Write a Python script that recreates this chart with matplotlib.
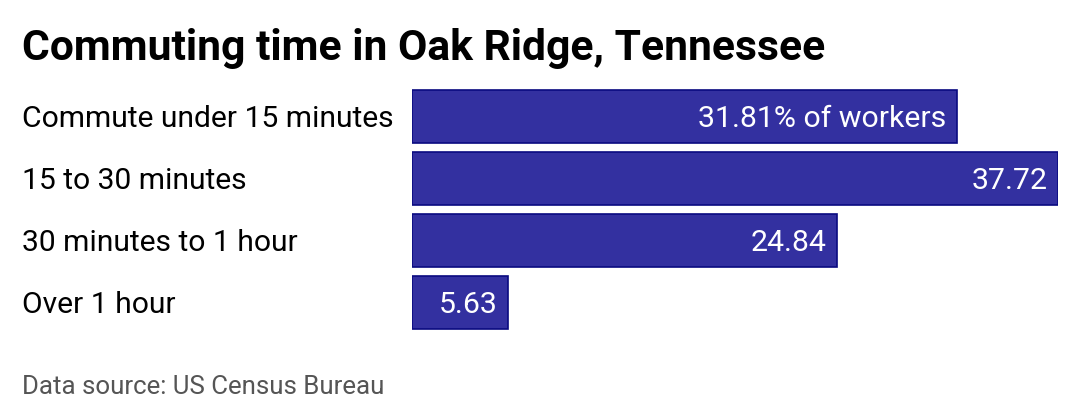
import matplotlib.pyplot as plt

categories = ["Commute under 15 minutes", "15 to 30 minutes", "30 minutes to 1 hour", "Over 1 hour"]
values = [31.81, 37.72, 24.84, 5.63]
value_labels = ["31.81% of workers", "37.72", "24.84", "5.63"]

plt.rcParams["font.family"] = ["Roboto", "DejaVu Sans"]

fig = plt.figure(figsize=(10.8, 4.2), dpi=100)
ax = fig.add_axes([412 / 1080, 1 - 333.5 / 420, 646 / 1080, 248 / 420])

ypos = list(range(len(categories)))
ax.barh(ypos, values, height=0.86, color="#3330a0", edgecolor="#0a0a80", linewidth=1.2)
ax.set_xlim(0, max(values))
ax.set_ylim(len(categories) - 0.5, -0.5)
ax.axis("off")

for y, v, lab in zip(ypos, values, value_labels):
    ax.annotate(lab, xy=(v, y), xytext=(-7.5, -1.8), textcoords="offset points",
                ha="right", va="center", color="white", fontsize=21.8)

for y, cat in zip(ypos, categories):
    ax.annotate(cat, xy=(0, y), xycoords=("figure fraction", "data"),
                xytext=(22 * 0.72, -1.8), textcoords="offset points",
                ha="left", va="center", color="black", fontsize=21.6)

fig.text(22 / 1080, 1 - 48.5 / 420, "Commuting time in Oak Ridge, Tennessee",
         fontsize=30.7, fontweight="bold", ha="left", va="center", color="black")
fig.text(22 / 1080, 1 - 386.5 / 420, "Data source: US Census Bureau",
         fontsize=18.6, ha="left", va="center", color="#555555")

fig.savefig("out.png", dpi=100, facecolor="white")
